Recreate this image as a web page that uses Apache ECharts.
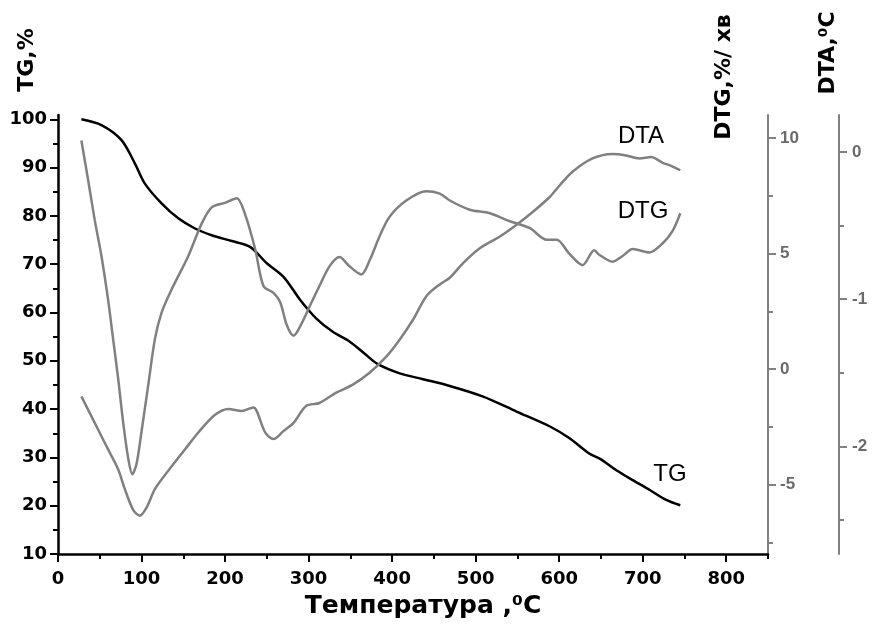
<!DOCTYPE html>
<html>
<head>
<meta charset="utf-8">
<script src="https://cdn.jsdelivr.net/npm/echarts@6/dist/echarts.min.js"></script>
<style>
  html, body { margin: 0; padding: 0; background: #fff; }
  #chart { width: 874px; height: 635px; }
</style>
</head>
<body>
<div id="chart"></div>
<script>
// values: [temperature, value]
const tgData = [
  [28, 100], [52, 98.8], [76, 95.7], [92, 90.9], [104, 86.7], [124, 82.6],
  [144, 79.5], [164, 77.4], [184, 76], [208, 74.8], [230, 73.6], [250, 70.2],
  [270, 67.4], [290, 62.6], [309, 58.8], [329, 56], [349, 54], [369, 51.2],
  [383, 49.3], [409, 47.4], [437, 46.2], [469, 44.8], [509, 42.6], [549, 39.5],
  [589, 36.4], [612, 34], [636, 30.8], [650, 29.6], [668, 27.4], [688, 25.3],
  [708, 23.3], [728, 21.2], [745, 20.1]
];
const dtgData = [
  [28, 9.9], [36, 8.2], [44, 6.45], [52, 4.9], [60, 3.0], [66, 1.3], [72, -0.4],
  [78, -2.3], [84, -3.85], [89, -4.55], [94, -4.1], [100, -2.7], [108, -0.7],
  [116, 1.3], [124, 2.45], [136, 3.45], [156, 4.9], [172, 6.3], [184, 7.0],
  [200, 7.2], [214, 7.4], [224, 6.7], [236, 5.2], [246, 3.6], [258, 3.3],
  [266, 2.9], [274, 1.9], [282, 1.45], [292, 2.0], [301, 2.7], [313, 3.6],
  [325, 4.45], [337, 4.85], [349, 4.45], [363, 4.1], [373, 4.7], [385, 5.75],
  [397, 6.6], [417, 7.3], [441, 7.7], [457, 7.6], [469, 7.3], [493, 6.9],
  [517, 6.75], [541, 6.4], [565, 6.1], [585, 5.6], [597, 5.6], [612, 5.0],
  [628, 4.5], [642, 5.15], [648, 4.95], [664, 4.65], [676, 4.9], [688, 5.2],
  [708, 5.05], [724, 5.45], [736, 6.0], [745, 6.75]
];
const dtaData = [
  [28, -1.66], [36, -1.75], [48, -1.885], [60, -2.02], [72, -2.155], [80, -2.29],
  [90, -2.43], [98, -2.47], [106, -2.415], [116, -2.29], [132, -2.165],
  [152, -2.02], [168, -1.905], [188, -1.785], [204, -1.745], [220, -1.76],
  [234, -1.735], [238, -1.76], [248, -1.905], [258, -1.95], [270, -1.895],
  [282, -1.84], [297, -1.725], [313, -1.705], [333, -1.635], [353, -1.58],
  [373, -1.5], [393, -1.39], [409, -1.275], [425, -1.14], [441, -0.98],
  [457, -0.9], [469, -0.855], [485, -0.755], [505, -0.655], [529, -0.575],
  [549, -0.495], [569, -0.405], [589, -0.305], [601, -0.225], [616, -0.135],
  [640, -0.045], [664, -0.015], [680, -0.025], [696, -0.045], [710, -0.035],
  [724, -0.075], [734, -0.095], [745, -0.125]
];

// tick positions
const xMajor = [0, 100, 200, 300, 400, 500, 600, 700, 800];
const xMinor = [50, 150, 250, 350, 450, 550, 650, 750, 850];
const tgMajor = [10, 20, 30, 40, 50, 60, 70, 80, 90, 100];
const tgMinor = [15, 25, 35, 45, 55, 65, 75, 85, 95];
const dtgMajor = [-5, 0, 5, 10];
const dtgMinor = [-7.5, -2.5, 2.5, 7.5];
const dtaMajor = [-2, -1, 0];
const dtaMinor = [-2.5, -1.5, -0.5];

const black = "#000";
const gray = "#808080";

const chart = echarts.init(document.getElementById("chart"));

// pair of axes: one with labels and long ticks, one with short minor ticks only
const makeAxes = (base, major, minor, color, labelColor, font, fontSize, margin, lw) => [
  Object.assign({}, base, {
    type: "value",
    axisLine: { show: true, onZero: false, lineStyle: { color: color, width: lw } },
    axisTick: { show: true, customValues: major, length: 8, lineStyle: { color: color, width: 2 } },
    axisLabel: {
      customValues: major,
      margin: margin,
      color: labelColor,
      fontFamily: font,
      fontWeight: "bold",
      fontSize: fontSize,
    },
    splitLine: { show: false },
  }),
  Object.assign({}, base, {
    type: "value",
    axisLine: { show: false, onZero: false },
    axisTick: { show: true, customValues: minor, length: 5, lineStyle: { color: color, width: 2 } },
    axisLabel: { show: false },
    splitLine: { show: false },
  }),
];

const option = {
  animation: false,
  backgroundColor: "#fff",
  grid: {
    left: 58,
    right: 106,
    top: 115,
    bottom: 81,
    containLabel: false,
    outerBoundsMode: "none",
  },
  xAxis: makeAxes({ position: "bottom", min: 0, max: 850 }, xMajor, xMinor, black, black, "DejaVu Sans", 18, 16, 2.5),
  yAxis: [].concat(
    makeAxes({ position: "left", min: 10, max: 100.9 }, tgMajor, tgMinor, black, black, "DejaVu Sans", 18, 11, 2.5),
    makeAxes({ position: "right", offset: 0, min: -8, max: 11 }, dtgMajor, dtgMinor, gray, "#6a6a6a", "Liberation Sans", 17, 12, 2),
    makeAxes({ position: "right", offset: 71, min: -2.73, max: 0.25 }, dtaMajor, dtaMinor, gray, "#6a6a6a", "Liberation Sans", 17, 13, 2)
  ),
  series: [
    {
      name: "TG",
      type: "line",
      xAxisIndex: 0,
      yAxisIndex: 0,
      data: tgData,
      showSymbol: false,
      smooth: 0.3,
      lineStyle: { color: black, width: 2.5 },
    },
    {
      name: "DTG",
      type: "line",
      xAxisIndex: 0,
      yAxisIndex: 2,
      data: dtgData,
      showSymbol: false,
      smooth: 0.3,
      lineStyle: { color: gray, width: 2.5 },
    },
    {
      name: "DTA",
      type: "line",
      xAxisIndex: 0,
      yAxisIndex: 4,
      data: dtaData,
      showSymbol: false,
      smooth: 0.3,
      lineStyle: { color: gray, width: 2.5 },
    },
  ],
  graphic: [
    {
      type: "text", x: 27, y: 60, rotation: Math.PI / 2,
      style: { text: "TG,%", font: "bold 22px 'DejaVu Sans'", fill: black, align: "center", verticalAlign: "middle" },
    },
    {
      type: "text", x: 724, y: 77, rotation: Math.PI / 2,
      style: { text: "DTG,%/ хв", font: "bold 22px 'DejaVu Sans'", fill: black, align: "center", verticalAlign: "middle" },
    },
    {
      type: "text", x: 828, y: 53, rotation: Math.PI / 2,
      style: { text: "DTA,⁰C", font: "bold 22px 'DejaVu Sans'", fill: black, align: "center", verticalAlign: "middle" },
    },
    {
      type: "text", x: 423, y: 606,
      style: { text: "Температура ,⁰C", font: "bold 25px 'DejaVu Sans'", fill: black, align: "center", verticalAlign: "middle" },
    },
    {
      type: "text", x: 641, y: 136,
      style: { text: "DTA", font: "24px 'Liberation Sans'", fill: black, align: "center", verticalAlign: "middle" },
    },
    {
      type: "text", x: 643, y: 211,
      style: { text: "DTG", font: "24px 'Liberation Sans'", fill: black, align: "center", verticalAlign: "middle" },
    },
    {
      type: "text", x: 670, y: 474,
      style: { text: "TG", font: "24px 'Liberation Sans'", fill: black, align: "center", verticalAlign: "middle" },
    },
  ],
};

chart.setOption(option);
</script>
</body>
</html>
